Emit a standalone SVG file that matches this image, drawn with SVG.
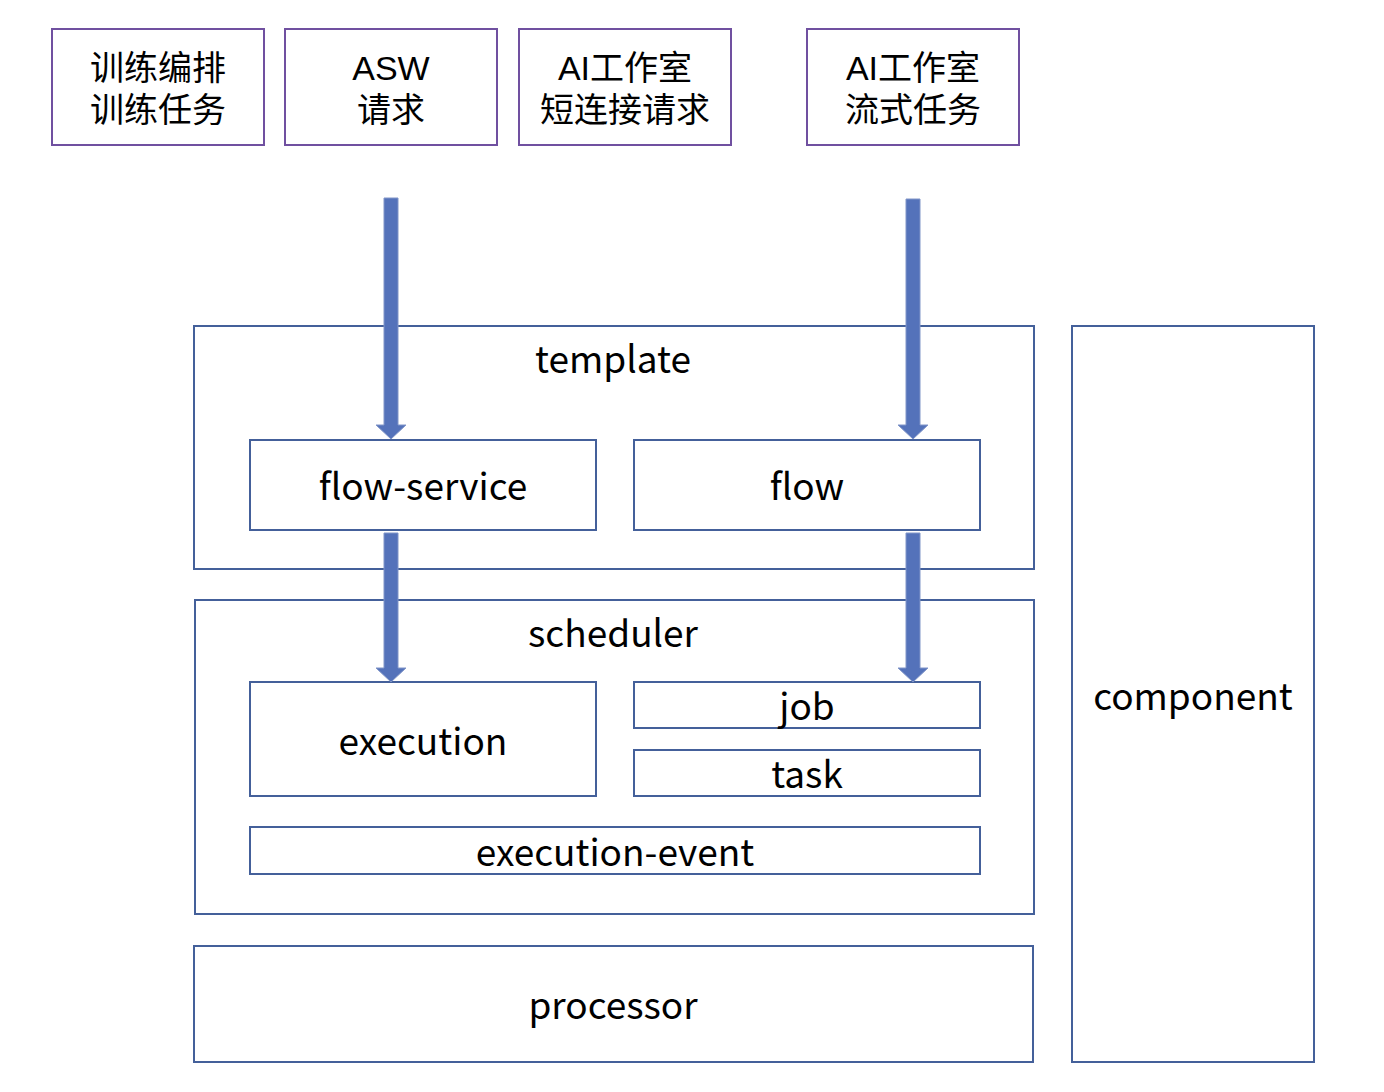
<svg xmlns="http://www.w3.org/2000/svg" width="1384" height="1092" viewBox="0 0 1384 1092">
<style>
.src{fill:#fff;stroke:#7050A0;stroke-width:2}
.box{fill:#fff;stroke:#44609A;stroke-width:2}
.grp{fill:none;stroke:#44609A;stroke-width:2}
text{font-family:"Noto Sans CJK SC","Noto Sans",sans-serif;fill:#000;text-anchor:middle}
.t1{font-size:34px;font-family:"Liberation Sans","Noto Sans CJK SC",sans-serif}
.t2{font-size:37px}
.arr{fill:#5472BA;stroke:#8095C8;stroke-width:1}
</style>
<rect width="1384" height="1092" fill="#fff"/>
<g id="src1"><rect class="src" x="52" y="29" width="212" height="116"/><text class="t1" x="158" y="80">训练编排</text><text class="t1" x="158" y="122">训练任务</text></g>
<g id="src2"><rect class="src" x="285" y="29" width="212" height="116"/><text class="t1" x="391" y="80">ASW</text><text class="t1" x="391" y="122">请求</text></g>
<g id="src3"><rect class="src" x="519" y="29" width="212" height="116"/><text class="t1" x="625" y="80">AI工作室</text><text class="t1" x="625" y="122">短连接请求</text></g>
<g id="src4"><rect class="src" x="807" y="29" width="212" height="116"/><text class="t1" x="913" y="80">AI工作室</text><text class="t1" x="913" y="122">流式任务</text></g>
<g id="template"><rect class="grp" x="194" y="326" width="840" height="243"/><text class="t2" x="613" y="373">template</text></g>
<g id="flow-service"><rect class="box" x="250" y="440" width="346" height="90"/><text class="t2" x="423" y="500">flow-service</text></g>
<g id="flow"><rect class="box" x="634" y="440" width="346" height="90"/><text class="t2" x="807" y="500">flow</text></g>
<g id="scheduler"><rect class="grp" x="195" y="600" width="839" height="314"/><text class="t2" x="613" y="647">scheduler</text></g>
<g id="execution"><rect class="box" x="250" y="682" width="346" height="114"/><text class="t2" x="423" y="755">execution</text></g>
<g id="job"><rect class="box" x="634" y="682" width="346" height="46"/><text class="t2" x="807" y="720">job</text></g>
<g id="task"><rect class="box" x="634" y="750" width="346" height="46"/><text class="t2" x="807" y="788">task</text></g>
<g id="execution-event"><rect class="box" x="250" y="827" width="730" height="47"/><text class="t2" x="615" y="866">execution-event</text></g>
<g id="processor"><rect class="box" x="194" y="946" width="839" height="116"/><text class="t2" x="613" y="1019">processor</text></g>
<g id="component"><rect class="box" x="1072" y="326" width="242" height="736"/><text class="t2" x="1193" y="710">component</text></g>
<g id="connectors">
<path class="arr" d="M384,198 H398 V425 H406 L391,439 L376,425 H384 Z"/>
<path class="arr" d="M384,533 H398 V668 H406 L391,682 L376,668 H384 Z"/>
<path class="arr" d="M906,199 H920 V425 H928 L913,439 L898,425 H906 Z"/>
<path class="arr" d="M906,533 H920 V668 H928 L913,682 L898,668 H906 Z"/>
</g>
</svg>
